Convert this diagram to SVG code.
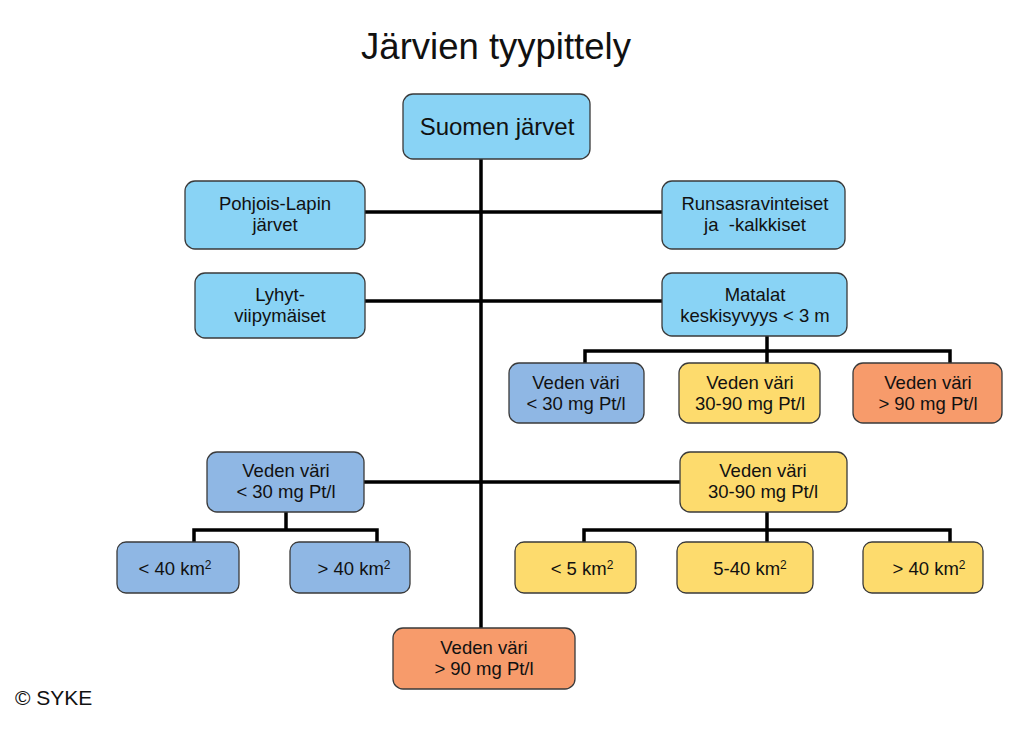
<svg xmlns="http://www.w3.org/2000/svg" width="1023" height="729" viewBox="0 0 1023 729">
<style>
text{font-family:"Liberation Sans",Arial,sans-serif;fill:#111;text-anchor:middle}
.t{font-size:18.5px}
.s{font-size:12px}
.b{stroke:#3a3a3a;stroke-width:1.3}
.lb{fill:#89D3F5}
.db{fill:#8FB7E4}
.ye{fill:#FDDB6D}
.or{fill:#F79B6B}
.c{stroke:#000;stroke-width:3.5;fill:none}
</style>
<rect width="1023" height="729" fill="#fff"/>
<text x="496" y="59" style="font-size:36.5px">Järvien tyypittely</text>
<g id="connectors">
<path class="c" d="M481 159V628"/>
<path class="c" d="M365 212H662"/>
<path class="c" d="M365 301H662"/>
<path class="c" d="M767 336V351M585 363V351H950V363M767 351V363"/>
<path class="c" d="M364 482H680"/>
<path class="c" d="M286 512V530M194 542V530H377V542"/>
<path class="c" d="M767 512V530M584 542V530H950V542M767 530V542"/>
</g>
<g id="n-suomen"><rect class="b lb" x="403" y="94" width="187" height="65" rx="10"/><text x="497" y="135" style="font-size:24px">Suomen järvet</text></g>
<g id="n-pohjois"><rect class="b lb" x="185" y="181" width="180" height="68" rx="10"/><text class="t" x="275" y="210">Pohjois-Lapin</text><text class="t" x="275" y="231">järvet</text></g>
<g id="n-runsas"><rect class="b lb" x="662" y="181" width="183" height="68" rx="10"/><text class="t" x="755" y="210">Runsasravinteiset</text><text class="t" x="755" y="231" xml:space="preserve">ja  -kalkkiset</text></g>
<g id="n-lyhyt"><rect class="b lb" x="195" y="273" width="170" height="65" rx="10"/><text class="t" x="280" y="301">Lyhyt-</text><text class="t" x="280" y="322">viipymäiset</text></g>
<g id="n-matalat"><rect class="b lb" x="662" y="273" width="185" height="63" rx="10"/><text class="t" x="755" y="301">Matalat</text><text class="t" x="755" y="322">keskisyvyys &lt; 3 m</text></g>
<g id="n-m-blue"><rect class="b db" x="509" y="363" width="135" height="60" rx="10"/><text class="t" x="576" y="389">Veden väri</text><text class="t" x="576" y="410">&lt; 30 mg Pt/l</text></g>
<g id="n-m-yellow"><rect class="b ye" x="679" y="363" width="141" height="60" rx="10"/><text class="t" x="750" y="389">Veden väri</text><text class="t" x="750" y="410">30-90 mg Pt/l</text></g>
<g id="n-m-orange"><rect class="b or" x="853" y="363" width="149" height="60" rx="10"/><text class="t" x="928" y="389">Veden väri</text><text class="t" x="928" y="410">&gt; 90 mg Pt/l</text></g>
<g id="n-l-blue"><rect class="b db" x="207" y="452" width="157" height="60" rx="10"/><text class="t" x="286" y="477">Veden väri</text><text class="t" x="286" y="498">&lt; 30 mg Pt/l</text></g>
<g id="n-r-yellow"><rect class="b ye" x="680" y="452" width="167" height="60" rx="10"/><text class="t" x="763" y="477">Veden väri</text><text class="t" x="763" y="498">30-90 mg Pt/l</text></g>
<g id="n-lt40"><rect class="b db" x="117" y="542" width="122" height="51" rx="9"/><text class="t" x="175" y="575">&lt; 40 km<tspan class="s" dy="-6">2</tspan></text></g>
<g id="n-gt40a"><rect class="b db" x="290" y="542" width="120" height="51" rx="9"/><text class="t" x="354" y="575">&gt; 40 km<tspan class="s" dy="-6">2</tspan></text></g>
<g id="n-lt5"><rect class="b ye" x="515" y="542" width="121" height="51" rx="9"/><text class="t" x="582" y="575">&lt; 5 km<tspan class="s" dy="-6">2</tspan></text></g>
<g id="n-5to40"><rect class="b ye" x="677" y="542" width="136" height="51" rx="9"/><text class="t" x="750" y="575">5-40 km<tspan class="s" dy="-6">2</tspan></text></g>
<g id="n-gt40b"><rect class="b ye" x="863" y="542" width="120" height="51" rx="9"/><text class="t" x="929" y="575">&gt; 40 km<tspan class="s" dy="-6">2</tspan></text></g>
<g id="n-bottom"><rect class="b or" x="393" y="628" width="182" height="61" rx="10"/><text class="t" x="484" y="654">Veden väri</text><text class="t" x="484" y="675">&gt; 90 mg Pt/l</text></g>
<text x="15" y="705" style="font-size:21px;text-anchor:start">© SYKE</text>
</svg>
